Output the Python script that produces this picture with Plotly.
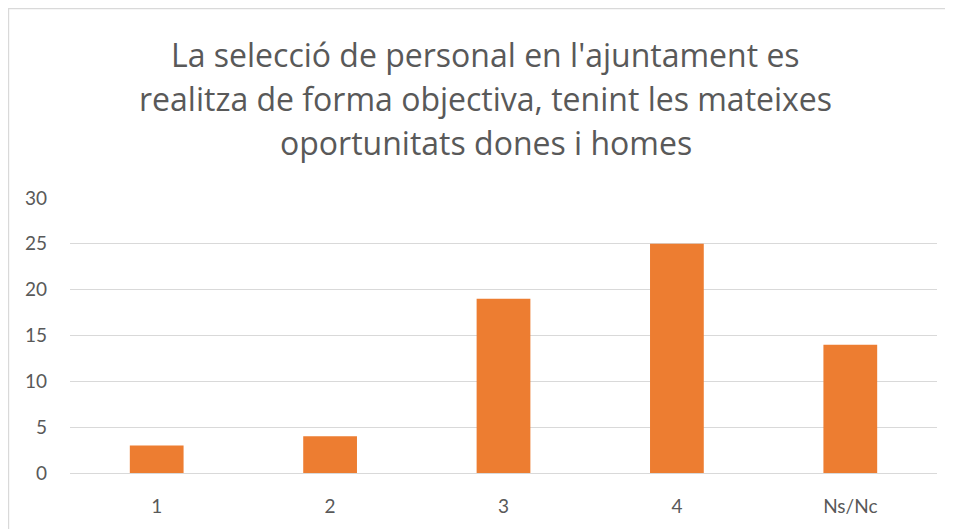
import plotly.graph_objects as go

categories = ["1", "2", "3", "4", "Ns/Nc"]
values = [3, 4, 19, 25, 14]
title_lines = [
    "La selecció de personal en l'ajuntament es",
    "realitza de forma objectiva, tenint les mateixes",
    "oportunitats dones i homes",
]
y_ticks = [0, 5, 10, 15, 20, 25, 30]

# page offset from default body margin
OFF = 8
W, H = 953, 529
L, R, T, B = 70 - OFF, 16 + OFF, 198 - OFF, 56 + OFF
pw = W - L - R
ph = H - T - B

def px_x(x):  # page px -> paper
    return (x - OFF - L) / pw

def px_y(y):  # page px -> paper
    return (H - B - (y - OFF)) / ph

fig = go.Figure(go.Bar(
    x=categories, y=values,
    marker=dict(color="#ED7D31", line=dict(width=0)),
    hoverinfo="x+y",
))

annotations = []
for line, yc in zip(title_lines, [54, 98, 142]):
    annotations.append(dict(
        text=line, xref="paper", yref="paper",
        x=px_x(485.5), y=px_y(yc), xanchor="center", yanchor="middle",
        showarrow=False,
        font=dict(family="Open Sans", size=32, color="#595959"),
    ))

fig.update_layout(
    width=W, height=H,
    margin=dict(l=L, r=R, t=T, b=B),
    paper_bgcolor="white", plot_bgcolor="white",
    bargap=0.69,
    showlegend=False,
    font=dict(family="Lato", color="#595959", size=19),
    annotations=annotations,
    shapes=[
        dict(type="rect", xref="paper", yref="paper",
             x0=px_x(8.6), x1=px_x(970), y0=px_y(560), y1=px_y(8.6),
             line=dict(color="#D9D9D9", width=1.2), layer="below"),
    ],
    xaxis=dict(showgrid=False, showline=False, zeroline=False,
               ticks="", ticklabelstandoff=20,
               tickfont=dict(size=19, color="#595959")),
    yaxis=dict(range=[0, 30], tickvals=y_ticks, showgrid=True,
               gridcolor="#D9D9D9", gridwidth=1.2, zeroline=True,
               zerolinecolor="#D9D9D9", zerolinewidth=1.2,
               showline=False, ticks="", ticklabelstandoff=22,
               tickfont=dict(size=19, color="#595959")),
)

fig.write_html("out.html")
